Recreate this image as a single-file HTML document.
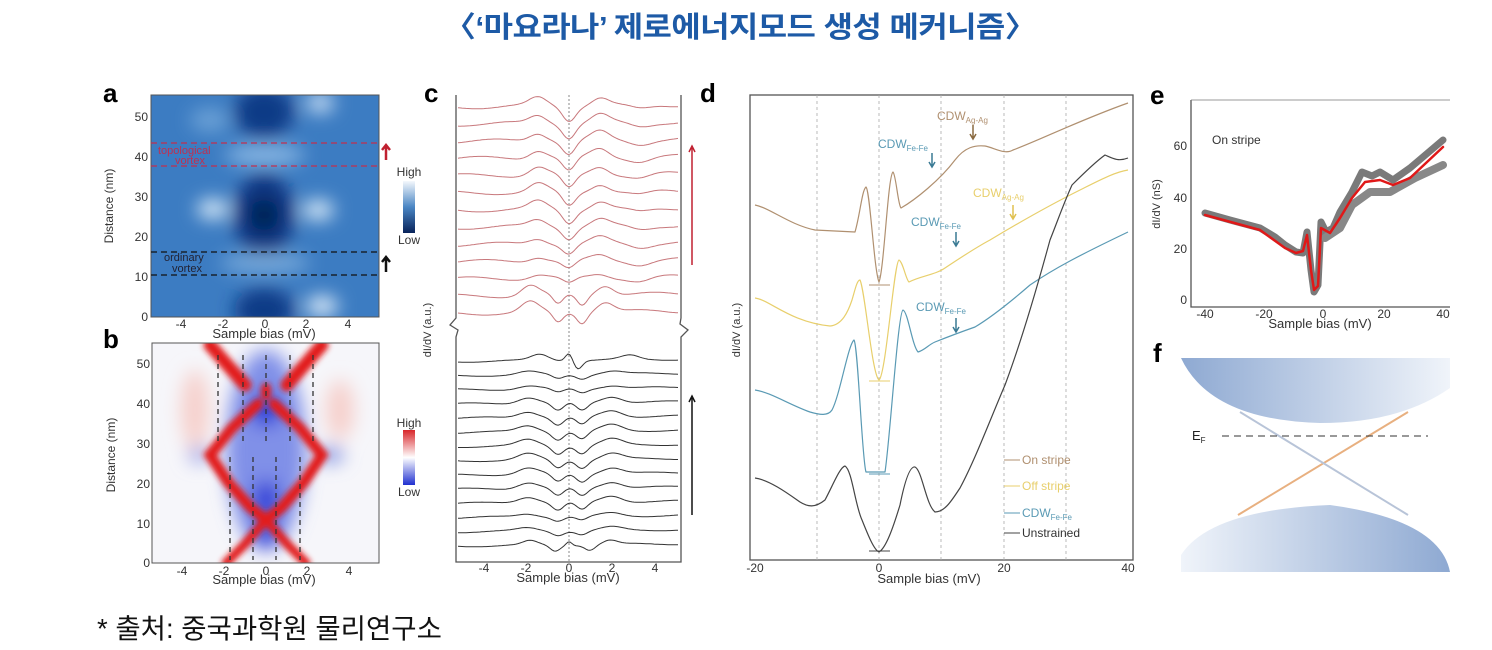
<!DOCTYPE html>
<html><head><meta charset="utf-8">
<style>
html,body{margin:0;padding:0;background:#fff;}
body{width:1492px;height:650px;overflow:hidden;position:relative;font-family:"Liberation Sans",sans-serif;}
.title{position:absolute;left:444px;top:4px;white-space:nowrap;font-family:"Liberation Sans","Noto Sans CJK KR",sans-serif;font-weight:bold;font-size:29px;color:#1d5aa6;transform-origin:left top;transform:scaleX(1.1);letter-spacing:-0.5px}
.foot{position:absolute;left:97px;top:606px;font-family:"Liberation Sans","Noto Sans CJK KR",sans-serif;font-size:27.5px;color:#111;}
svg{position:absolute;left:0;top:0}
svg text{font-family:"Liberation Sans",sans-serif;}
</style></head><body>
<div class="title">〈‘마요라나’ 제로에너지모드 생성 메커니즘〉</div>
<div class="foot">* 출처: 중국과학원 물리연구소</div>
<svg width="1492" height="650" viewBox="0 0 1492 650" xmlns="http://www.w3.org/2000/svg">
<defs>
<filter id="bl" x="-50%" y="-50%" width="200%" height="200%"><feGaussianBlur stdDeviation="9"/></filter>
<filter id="bl2" x="-50%" y="-50%" width="200%" height="200%"><feGaussianBlur stdDeviation="3"/></filter>
<clipPath id="ca"><rect x="151" y="95" width="228" height="222"/></clipPath>
<clipPath id="cb"><rect x="152" y="343" width="227" height="220"/></clipPath>
<linearGradient id="cbA" x1="0" y1="0" x2="0" y2="1"><stop offset="0" stop-color="#f4f8fc"/><stop offset="0.5" stop-color="#4a86c4"/><stop offset="1" stop-color="#08235a"/></linearGradient>
<linearGradient id="cbB" x1="0" y1="0" x2="0" y2="1"><stop offset="0" stop-color="#d8262a"/><stop offset="0.5" stop-color="#ffffff"/><stop offset="1" stop-color="#2030d0"/></linearGradient>
<linearGradient id="fTop" x1="0" y1="0" x2="1" y2="0"><stop offset="0" stop-color="#8ea9d2"/><stop offset="1" stop-color="#f0f4fa"/></linearGradient>
<linearGradient id="fBot" x1="0" y1="0" x2="1" y2="0"><stop offset="0" stop-color="#f0f4fa"/><stop offset="1" stop-color="#8ea9d2"/></linearGradient>
</defs>

<g font-weight="bold" font-size="26" fill="#000">
<text x="103" y="102">a</text><text x="103" y="348">b</text><text x="424" y="102">c</text><text x="700" y="102">d</text><text x="1150" y="104">e</text><text x="1153" y="362">f</text>
</g>

<!-- Panel a -->
<g clip-path="url(#ca)">
<rect x="151" y="95" width="228" height="222" fill="#3c7cc2"/>
<g filter="url(#bl)">
<ellipse cx="264" cy="112" rx="30" ry="26" fill="#0c3a86"/>
<ellipse cx="264" cy="215" rx="30" ry="42" fill="#0a3480"/>
<ellipse cx="264" cy="215" rx="14" ry="16" fill="#04204f"/>
<ellipse cx="264" cy="310" rx="30" ry="22" fill="#0c3a86"/>
<ellipse cx="213" cy="209" rx="16" ry="10" fill="#d8eaf8"/>
<ellipse cx="318" cy="210" rx="16" ry="10" fill="#d8eaf8"/>
<ellipse cx="320" cy="103" rx="14" ry="10" fill="#c8def4"/>
<ellipse cx="322" cy="306" rx="16" ry="10" fill="#e0eefa"/>
<ellipse cx="265" cy="155" rx="40" ry="10" fill="#8ab8e4"/>
<ellipse cx="265" cy="263" rx="45" ry="10" fill="#78aadc"/>
<ellipse cx="210" cy="120" rx="20" ry="12" fill="#6aa0d6"/>
</g>
</g>
<rect x="151" y="95" width="228" height="222" fill="none" stroke="#555" stroke-width="1"/>
<g stroke-dasharray="6,4" stroke-width="1.2">
<line x1="151" y1="143" x2="379" y2="143" stroke="#c03050"/><line x1="151" y1="166" x2="379" y2="166" stroke="#c03050"/>
<line x1="151" y1="252" x2="379" y2="252" stroke="#111"/><line x1="151" y1="275" x2="379" y2="275" stroke="#111"/>
</g>
<text x="158" y="154" font-size="11" fill="#c03050">topological</text><text x="175" y="164" font-size="11" fill="#c03050">vortex</text>
<text x="164" y="261" font-size="11" fill="#223">ordinary</text><text x="172" y="272" font-size="11" fill="#223">vortex</text>
<g font-size="12" fill="#333" text-anchor="end">
<text x="148" y="121">50</text><text x="148" y="161">40</text><text x="148" y="201">30</text><text x="148" y="241">20</text><text x="148" y="281">10</text><text x="148" y="321">0</text>
</g>
<g font-size="12" fill="#333" text-anchor="middle">
<text x="181" y="328">-4</text><text x="223" y="328">-2</text><text x="265" y="328">0</text><text x="306" y="328">2</text><text x="348" y="328">4</text>
</g>
<text x="264" y="338" font-size="13" fill="#333" text-anchor="middle">Sample bias (mV)</text>
<text transform="translate(113,206) rotate(-90)" font-size="12" fill="#333" text-anchor="middle">Distance (nm)</text>
<path d="M386 160 L386 146 M382 150 L386 145 L390 150" stroke="#c02030" stroke-width="2.5" fill="none"/>
<path d="M386 272 L386 258 M382 262 L386 257 L390 262" stroke="#111" stroke-width="2.5" fill="none"/>
<text x="409" y="176" font-size="12" fill="#333" text-anchor="middle">High</text>
<rect x="403" y="181" width="12" height="52" fill="url(#cbA)"/>
<text x="409" y="244" font-size="12" fill="#333" text-anchor="middle">Low</text>

<!-- Panel b -->
<g clip-path="url(#cb)">
<rect x="152" y="343" width="227" height="220" fill="#f6f6fa"/>
<g filter="url(#bl)">
<ellipse cx="266" cy="450" rx="40" ry="100" fill="#8090e8"/>
<ellipse cx="266" cy="410" rx="16" ry="16" fill="#2034d8"/>
<ellipse cx="266" cy="500" rx="14" ry="20" fill="#3040d8"/>
<ellipse cx="266" cy="535" rx="12" ry="14" fill="#3040d8"/>
<ellipse cx="195" cy="410" rx="14" ry="40" fill="#f6d0cc"/>
<ellipse cx="340" cy="410" rx="14" ry="30" fill="#f6d0cc"/>
<ellipse cx="330" cy="455" rx="14" ry="8" fill="#8090e0"/>
<ellipse cx="200" cy="455" rx="12" ry="8" fill="#a0a8e8"/>
</g>
<g filter="url(#bl2)" fill="none" stroke="#e21a1c" stroke-linecap="round">
<path d="M210 345 L245 385 M322 345 L287 385" stroke-width="13"/>
<path d="M258 404 L232 428 L210 455 L228 482 L250 507 L266 520 L282 507 L304 482 L322 455 L300 428 L274 404" stroke-width="11"/>
<path d="M266 520 L244 545 L226 563 M266 520 L288 545 L306 563" stroke-width="9"/>
<path d="M266 388 L266 395" stroke-width="10"/>
</g>
</g>
<rect x="152" y="343" width="227" height="220" fill="none" stroke="#555" stroke-width="1"/>
<g stroke="#333" stroke-width="1.3" stroke-dasharray="5,4">
<line x1="218" y1="355" x2="218" y2="445"/><line x1="243" y1="355" x2="243" y2="445"/><line x1="266" y1="355" x2="266" y2="445"/><line x1="290" y1="355" x2="290" y2="445"/><line x1="313" y1="355" x2="313" y2="445"/>
<line x1="230" y1="457" x2="230" y2="560"/><line x1="253" y1="457" x2="253" y2="560"/><line x1="276" y1="457" x2="276" y2="560"/><line x1="300" y1="457" x2="300" y2="560"/>
</g>
<g font-size="12" fill="#333" text-anchor="end">
<text x="150" y="368">50</text><text x="150" y="408">40</text><text x="150" y="448">30</text><text x="150" y="488">20</text><text x="150" y="528">10</text><text x="150" y="567">0</text>
</g>
<g font-size="12" fill="#333" text-anchor="middle">
<text x="182" y="575">-4</text><text x="224" y="575">-2</text><text x="266" y="575">0</text><text x="307" y="575">2</text><text x="349" y="575">4</text>
</g>
<text x="264" y="584" font-size="13" fill="#333" text-anchor="middle">Sample bias (mV)</text>
<text transform="translate(115,455) rotate(-90)" font-size="12" fill="#333" text-anchor="middle">Distance (nm)</text>
<text x="409" y="427" font-size="12" fill="#333" text-anchor="middle">High</text>
<rect x="403" y="430" width="12" height="55" fill="url(#cbB)"/>
<text x="409" y="496" font-size="12" fill="#333" text-anchor="middle">Low</text>

<!-- Panel c -->
<g id="pc">
<path d="M456 95 L456 318 L450 325 L458 330 L456 337 L456 562 L681 562 L681 337 L688 330 L680 324 L681 318 L681 95" fill="none" stroke="#555" stroke-width="1.3"/>
<line x1="569" y1="95" x2="569" y2="562" stroke="#888" stroke-width="1" stroke-dasharray="2,2"/>
<g id="ccurves" fill="none" stroke-width="1"></g>
<g font-size="12" fill="#333" text-anchor="middle">
<text x="484" y="572">-4</text><text x="526" y="572">-2</text><text x="569" y="572">0</text><text x="612" y="572">2</text><text x="655" y="572">4</text>
</g>
<text x="568" y="582" font-size="13" fill="#333" text-anchor="middle">Sample bias (mV)</text>
<text transform="translate(431,330) rotate(-90)" font-size="11" fill="#333" text-anchor="middle">dI/dV (a.u.)</text>
<path d="M692 265 L692 148 M689 152 L692 146 L695 152" stroke="#c02030" stroke-width="1.5" fill="none"/>
<path d="M692 515 L692 398 M689 402 L692 396 L695 402" stroke="#111" stroke-width="1.5" fill="none"/>
</g>

<!-- Panel d -->
<rect x="750" y="95" width="383" height="465" fill="none" stroke="#555" stroke-width="1.3"/>
<g stroke="#aaa" stroke-width="0.8" stroke-dasharray="3,3">
<line x1="817" y1="95" x2="817" y2="560"/><line x1="879" y1="95" x2="879" y2="560"/><line x1="941" y1="95" x2="941" y2="560"/><line x1="1004" y1="95" x2="1004" y2="560"/><line x1="1066" y1="95" x2="1066" y2="560"/>
</g>
<g fill="none" stroke-width="1.2" stroke-linejoin="round">
<path stroke="#b09070" d="M755 205 C770 208 790 225 815 230 L855 232 C860 215 862 190 866 187 C870 190 874 270 879 282 C884 270 888 175 893 172 C896 175 898 205 901 208 C915 200 940 180 955 160 C965 147 975 145 985 146 C995 148 1005 155 1013 150 C1040 140 1080 120 1128 103"/>
<path stroke="#e8cf6c" d="M755 298 C770 300 790 322 830 326 C842 325 848 312 852 300 C855 290 857 280 860 280 C865 290 872 375 879 380 C886 375 894 262 899 260 C903 262 906 280 909 282 C920 276 935 275 945 268 C960 258 975 248 990 240 C1020 222 1050 205 1080 190 C1100 180 1115 172 1128 170"/>
<path stroke="#5a9ab4" d="M755 390 C770 392 790 405 810 412 C820 415 828 416 832 410 C840 395 848 345 854 340 C858 345 862 460 866 472 L885 472 C890 440 898 312 903 310 C908 312 912 345 918 352 C925 350 928 345 935 342 C945 338 958 333 975 327 C995 315 1015 298 1030 285 C1055 268 1080 255 1128 232"/>
<path stroke="#444" d="M755 478 C770 480 790 495 800 502 C808 507 815 508 825 500 C833 485 840 467 845 466 C852 470 855 505 862 520 C868 535 874 550 879 552 C886 548 893 528 900 505 C905 480 910 466 915 467 C922 470 926 505 935 512 C945 512 952 500 960 488 C975 460 990 420 1005 385 C1020 345 1035 295 1050 240 C1058 220 1063 205 1072 185 C1085 172 1098 160 1105 155 C1112 158 1118 162 1128 158"/>
</g>
<g stroke-width="1">
<line x1="869" y1="285" x2="890" y2="285" stroke="#b09070"/>
<line x1="869" y1="381" x2="890" y2="381" stroke="#e8cf6c"/>
<line x1="869" y1="474" x2="890" y2="474" stroke="#5a9ab4"/>
<line x1="869" y1="551" x2="890" y2="551" stroke="#444"/>
</g>
<g font-size="12">
<text x="937" y="120" fill="#b09070">CDW<tspan font-size="8" dy="3">Ag-Ag</tspan></text>
<text x="878" y="148" fill="#5a9ab4">CDW<tspan font-size="8" dy="3">Fe-Fe</tspan></text>
<text x="973" y="197" fill="#e8cf6c">CDW<tspan font-size="8" dy="3">Ag-Ag</tspan></text>
<text x="911" y="226" fill="#5a9ab4">CDW<tspan font-size="8" dy="3">Fe-Fe</tspan></text>
<text x="916" y="311" fill="#5a9ab4">CDW<tspan font-size="8" dy="3">Fe-Fe</tspan></text>
</g>
<g stroke-width="1.5" fill="none">
<path d="M973 125 L973 138 M970 134 L973 139 L976 134" stroke="#8a6a40"/>
<path d="M932 153 L932 166 M929 162 L932 167 L935 162" stroke="#3a7a94"/>
<path d="M1013 205 L1013 218 M1010 214 L1013 219 L1016 214" stroke="#e0c050"/>
<path d="M956 232 L956 245 M953 241 L956 246 L959 241" stroke="#3a7a94"/>
<path d="M956 318 L956 331 M953 327 L956 332 L959 327" stroke="#3a7a94"/>
</g>
<g font-size="12">
<line x1="1004" y1="460" x2="1020" y2="460" stroke="#b09070"/><text x="1022" y="464" fill="#b09070">On stripe</text>
<line x1="1004" y1="486" x2="1020" y2="486" stroke="#e8cf6c"/><text x="1022" y="490" fill="#e8cf6c">Off stripe</text>
<line x1="1004" y1="513" x2="1020" y2="513" stroke="#5a9ab4"/><text x="1022" y="517" fill="#5a9ab4">CDW<tspan font-size="8" dy="3">Fe-Fe</tspan></text>
<line x1="1004" y1="533" x2="1020" y2="533" stroke="#444"/><text x="1022" y="537" fill="#333">Unstrained</text>
</g>
<g font-size="12" fill="#333" text-anchor="middle">
<text x="755" y="572">-20</text><text x="879" y="572">0</text><text x="1004" y="572">20</text><text x="1128" y="572">40</text>
</g>
<text x="929" y="583" font-size="13" fill="#333" text-anchor="middle">Sample bias (mV)</text>
<text transform="translate(740,330) rotate(-90)" font-size="11" fill="#333" text-anchor="middle">dI/dV (a.u.)</text>

<!-- Panel e -->
<polyline points="1191,100 1191,307 1450,307" fill="none" stroke="#555" stroke-width="1.3"/>
<line x1="1191" y1="100" x2="1450" y2="100" stroke="#777" stroke-width="0.8"/>
<g fill="none" stroke-linejoin="round" stroke-linecap="round">
<path stroke="#7a7a7a" stroke-width="7" d="M1205 213 L1230 220 L1260 228 L1275 237 L1285 245 L1296 252 L1303 253 L1307 232 L1311 270 L1314 292 L1318 285 L1321 222 L1326 232 L1333 228 L1340 212 L1352 192 L1362 172 L1372 176 L1380 172 L1393 180 L1410 168 L1443 140"/>
<path stroke="#888" stroke-width="8" d="M1325 238 L1340 228 L1352 205 L1370 192 L1390 192 L1415 178 L1443 165"/>
<path stroke="#e01818" stroke-width="2.5" d="M1205 215 L1260 230 L1285 248 L1296 253 L1303 251 L1307 235 L1311 270 L1314 290 L1318 286 L1321 228 L1330 233 L1340 218 L1352 198 L1365 182 L1380 180 L1393 185 L1410 178 L1443 147"/>
</g>
<text x="1212" y="144" font-size="12" fill="#333">On stripe</text>
<g font-size="12" fill="#333" text-anchor="end">
<text x="1187" y="150">60</text><text x="1187" y="202">40</text><text x="1187" y="253">20</text><text x="1187" y="304">0</text>
</g>
<g font-size="12" fill="#333" text-anchor="middle">
<text x="1205" y="318">-40</text><text x="1264" y="318">-20</text><text x="1323" y="318">0</text><text x="1384" y="318">20</text><text x="1443" y="318">40</text>
</g>
<text x="1320" y="328" font-size="13" fill="#333" text-anchor="middle">Sample bias (mV)</text>
<text transform="translate(1160,204) rotate(-90)" font-size="11" fill="#333" text-anchor="middle">dI/dV (nS)</text>

<!-- Panel f -->
<path d="M1181 358 L1450 358 L1450 388 Q1400 423 1320 423 Q1210 420 1181 358 Z" fill="url(#fTop)"/>
<path d="M1181 572 L1450 572 Q1440 520 1330 505 Q1210 510 1181 555 Z" fill="url(#fBot)"/>
<line x1="1238" y1="515" x2="1408" y2="412" stroke="#e8b080" stroke-width="2"/>
<line x1="1240" y1="412" x2="1408" y2="515" stroke="#b8c4d8" stroke-width="2"/>
<text x="1192" y="440" font-size="13" fill="#222">E<tspan font-size="8" dy="3">F</tspan></text>
<line x1="1222" y1="436" x2="1428" y2="436" stroke="#333" stroke-width="1" stroke-dasharray="7,5"/>
</svg>
<script>
(function(){
var g=document.getElementById('ccurves');
function y(x,base,type,i){
 var s=0;
 if(type==='r'){
  var a=Math.min(1,(12-i)/8+0.2);
  s = -14*a*Math.exp(-Math.pow((x-569)/9,2)) + 8*a*Math.exp(-Math.pow((x-538)/12,2)) + 8*a*Math.exp(-Math.pow((x-600)/12,2)) - 4*Math.exp(-Math.pow((x-640)/15,2));
  if(i>=11){ s = -10*Math.exp(-Math.pow((x-558)/7,2)) -10*Math.exp(-Math.pow((x-582)/7,2)) +10*Math.exp(-Math.pow((x-530)/12,2))+10*Math.exp(-Math.pow((x-605)/12,2));}
 } else {
  var b=(i<3||i>10)?0.5:1;
  s = -8*b*Math.exp(-Math.pow((x-558)/8,2)) -8*b*Math.exp(-Math.pow((x-582)/8,2)) + 6*b*Math.exp(-Math.pow((x-528)/14,2)) + 6*b*Math.exp(-Math.pow((x-612)/14,2));
  if(i===0){s = -6*Math.exp(-Math.pow((x-555)/7,2)) -5*Math.exp(-Math.pow((x-590)/7,2))+4*Math.exp(-Math.pow((x-530)/10,2))+4*Math.exp(-Math.pow((x-610)/10,2))+4*Math.exp(-Math.pow((x-569)/4,2));}
  if(i===13){s = 8*Math.exp(-Math.pow((x-569)/5,2)) -8*Math.exp(-Math.pow((x-578)/6,2))+6*Math.exp(-Math.pow((x-540)/12,2))+4*Math.exp(-Math.pow((x-630)/12,2));}
 }
 s += (type==='r'?2:1)*Math.sin(x/16+i) + (x-456)*0.01;
 return base - s;
}
function add(base,type,i,col){
 var d='';
 for(var x=458;x<=678;x+=2){d+=(x===458?'M':'L')+x+' '+y(x,base,type,i).toFixed(1)+' ';}
 var p=document.createElementNS('http://www.w3.org/2000/svg','path');
 p.setAttribute('d',d);p.setAttribute('stroke',col);g.appendChild(p);
}
for(var i=0;i<13;i++){ add(107+i*17.2,'r',i,'#c8787c'); }
for(var j=0;j<14;j++){ add(546-j*14.2,'b',j,'#333'); }
})();
</script>
</body></html>
